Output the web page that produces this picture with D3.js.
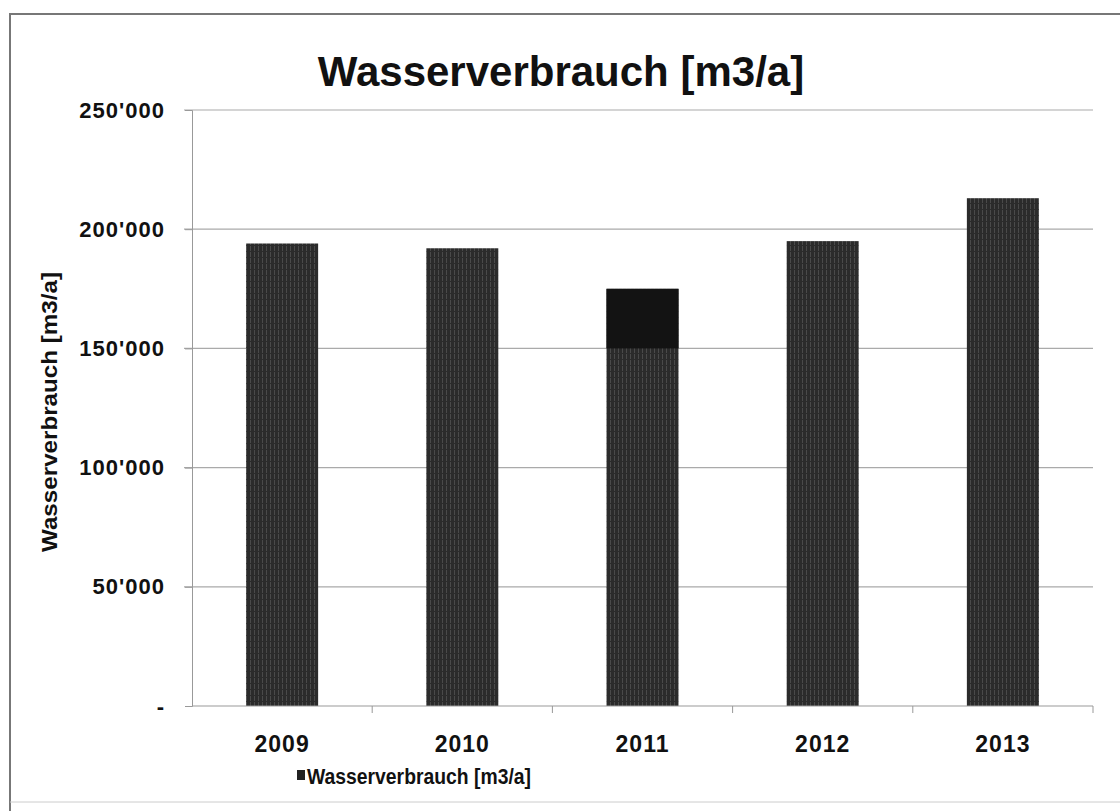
<!DOCTYPE html>
<html>
<head>
<meta charset="utf-8">
<script src="https://cdn.jsdelivr.net/npm/d3@7"></script>
<style>
  body { margin: 0; background: #fff; }
  text { font-family: "Liberation Sans", Arial, sans-serif; font-weight: bold; fill: #111; }
</style>
</head>
<body>
<div class="chart"></div>
<script>
const years = ["2009", "2010", "2011", "2012", "2013"];
const values = [194000, 192000, 175000, 195000, 213000];
const yTicks = [0, 50000, 100000, 150000, 200000, 250000];
const title = "Wasserverbrauch [m3/a]";

const width = 1120;
const height = 811;

const svg = d3.select(".chart")
              .append("svg")
              .attr("width", width)
              .attr("height", height);

// frame of the scanned chart
svg.append("path")
  .attr("d", "M10,811 L10,14 L1120,14")
  .attr("fill", "none")
  .attr("stroke", "#777")
  .attr("stroke-width", 2);
svg.append("line")
  .attr("x1", 10).attr("x2", 1120)
  .attr("y1", 802).attr("y2", 802)
  .attr("stroke", "#ccc");

// striped fill for the bars
const pat = svg.append("defs").append("pattern")
  .attr("id", "stripes")
  .attr("patternUnits", "userSpaceOnUse")
  .attr("width", 4).attr("height", 6);
pat.append("rect").attr("width", 4).attr("height", 6).attr("fill", "#2b2b2b");
pat.append("rect").attr("x", 2).attr("width", 1).attr("height", 5).attr("fill", "#4a4a4a");

const x = d3.scaleBand()
  .domain(years)
  .range([192, 1093])
  .paddingInner(0.6)
  .paddingOuter(0.3);

const y = d3.scaleLinear()
  .domain([0, 250000])
  .range([706, 110]);

const fmt = d => d === 0 ? "-" : d3.format(",")(d).replace(/,/g, "'");

// grid
svg.append("g")
  .selectAll("line")
  .data(yTicks.filter(d => d > 0))
  .enter()
  .append("line")
  .attr("x1", 184)
  .attr("x2", 1093)
  .attr("y1", d => y(d))
  .attr("y2", d => y(d))
  .attr("stroke", "#aaa")
  .attr("stroke-width", 1.2);

// y axis
const yAxis = svg.append("g")
  .attr("transform", "translate(192,0)")
  .call(d3.axisLeft(y).tickValues(yTicks).tickFormat(fmt).tickSize(7).tickPadding(20));
yAxis.select(".domain").attr("stroke", "#999");
yAxis.selectAll(".tick line").attr("stroke", "#999");
yAxis.selectAll(".tick text")
  .style("font-size", "22px")
  .style("letter-spacing", "1px")
  .style("font-family", "'Liberation Sans', Arial, sans-serif")
  .style("font-weight", "bold")
  .attr("fill", "#111");

// bars
svg.selectAll("rect.bar")
  .data(values)
  .enter()
  .append("rect")
  .attr("class", "bar")
  .attr("x", (d, i) => x(years[i]))
  .attr("y", d => y(d))
  .attr("width", x.bandwidth())
  .attr("height", d => y(0) - y(d))
  .attr("fill", "url(#stripes)");

// darker scanned top of the 2011 bar
svg.append("rect")
  .attr("x", x("2011"))
  .attr("y", y(values[2]))
  .attr("width", x.bandwidth())
  .attr("height", y(150000) - y(values[2]))
  .attr("fill", "#131313");

// x axis
const xAxis = svg.append("g")
  .attr("transform", "translate(0,706)")
  .call(d3.axisBottom(x).tickSize(0).tickPadding(30));
xAxis.select(".domain").attr("stroke", "#999").attr("d", "M192,0H1093");
xAxis.selectAll(".tick text")
  .style("font-size", "23px")
  .style("letter-spacing", "1px")
  .style("font-family", "'Liberation Sans', Arial, sans-serif")
  .style("font-weight", "bold")
  .attr("fill", "#111");
xAxis.selectAll("line.sep")
  .data(years)
  .enter()
  .append("line")
  .attr("x1", d => x(d) + x.bandwidth() / 2 + x.step() / 2)
  .attr("x2", d => x(d) + x.bandwidth() / 2 + x.step() / 2)
  .attr("y1", 0).attr("y2", 7)
  .attr("stroke", "#999");

// title
svg.append("text")
  .attr("x", 561)
  .attr("y", 86)
  .attr("text-anchor", "middle")
  .style("font-size", "42px")
  .text(title);

// y axis title
svg.append("text")
  .attr("transform", "translate(57,412) rotate(-90)")
  .attr("text-anchor", "middle")
  .attr("textLength", 280)
  .attr("lengthAdjust", "spacingAndGlyphs")
  .style("font-size", "22px")
  .text(title);

// legend
svg.append("rect")
  .attr("x", 297).attr("y", 770)
  .attr("width", 8).attr("height", 10)
  .attr("fill", "#222");
svg.append("text")
  .attr("x", 307)
  .attr("y", 784)
  .attr("textLength", 224)
  .attr("lengthAdjust", "spacingAndGlyphs")
  .style("font-size", "22px")
  .text(title);
</script>
</body>
</html>
